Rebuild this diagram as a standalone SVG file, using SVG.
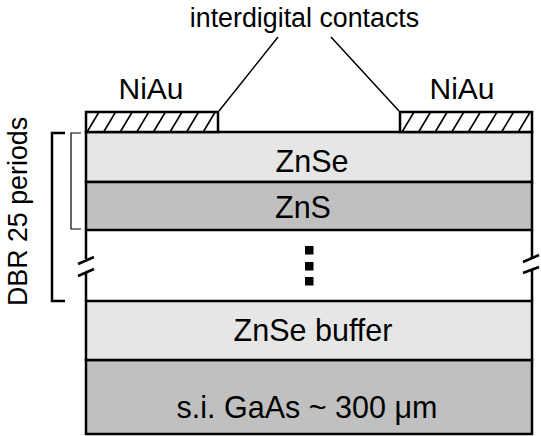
<svg xmlns="http://www.w3.org/2000/svg" width="541" height="436" viewBox="0 0 541 436">
<style>
text{font-family:"Liberation Sans",Arial,sans-serif;fill:#000}
.lbl{font-size:30.5px;text-anchor:middle}
.edge{stroke:#000;stroke-width:2.5;fill:none}
.light{fill:#e6e6e6;stroke:#000;stroke-width:2.5}
.dark{fill:#c0c0c0;stroke:#000;stroke-width:2.5}
.contact{fill:#fff;stroke:#000;stroke-width:2.5}
.hatch{stroke:#000;stroke-width:1.6}
.thin{stroke:#000;stroke-width:1.5;fill:none}
.niau{font-size:30px;text-anchor:middle}
</style>
<rect width="541" height="436" fill="#fff"/>
<g id="layer-gaas"><rect x="86" y="360" width="446" height="74" class="dark"/><text class="lbl" x="307" y="418" font-size="31.5">s.i. GaAs ~ 300 μm</text></g>
<g id="layer-buffer"><rect x="86" y="301" width="446" height="59" class="light"/><text class="lbl" x="313" y="341">ZnSe buffer</text></g>
<g id="layer-znse"><rect x="86" y="132" width="446" height="50" class="light"/><text class="lbl" x="312" y="172">ZnSe</text></g>
<g id="layer-zns"><rect x="86" y="182" width="446" height="48" class="dark"/><text class="lbl" x="303" y="218">ZnS</text></g>
<g id="layer-dbr-rest">
<path class="edge" d="M86 230V259M86 272V301M532 230V257M532 270V301"/>
<path class="edge" d="M78 264L94 257M78 276L94 269M523 262L539 255M523 273L539 267"/>
<rect x="305" y="246" width="8.5" height="8.5"/>
<rect x="305" y="262" width="8.5" height="8.5"/>
<rect x="305" y="277" width="8.5" height="8.5"/>
</g>
<g id="contact-left">
<rect x="86" y="112" width="132" height="20" class="contact"/>
<path class="hatch" d="M87 132L99 112M103.6 132L115.6 112M120.2 132L132.2 112M136.8 132L148.8 112M153.4 132L165.4 112M170 132L182 112M186.6 132L198.6 112M203.2 132L215.2 112"/>
<text class="niau" x="151" y="99">NiAu</text>
</g>
<g id="contact-right">
<rect x="400" y="112" width="132" height="20" class="contact"/>
<path class="hatch" d="M402 132L414 112M418.6 132L430.6 112M435.2 132L447.2 112M451.8 132L463.8 112M468.4 132L480.4 112M485 132L497 112M501.6 132L513.6 112M518.2 132L530.2 112"/>
<text class="niau" x="462" y="99">NiAu</text>
</g>
<g id="label-contacts"><text x="304.5" y="27" font-size="26.8" text-anchor="middle">interdigital contacts</text></g>
<g id="connectors">
<path class="thin" d="M219 111L278 37M331 37L399 111"/>
</g>
<g id="dbr-bracket">
<path class="edge" d="M65 133H52V301H65"/>
<path stroke="#000" stroke-width="1.2" fill="none" d="M81 133H71V229H81"/>
<text x="27" y="211.5" font-size="26.8" text-anchor="middle" transform="rotate(-90 27 211.5)">DBR 25 periods</text>
</g>
</svg>
